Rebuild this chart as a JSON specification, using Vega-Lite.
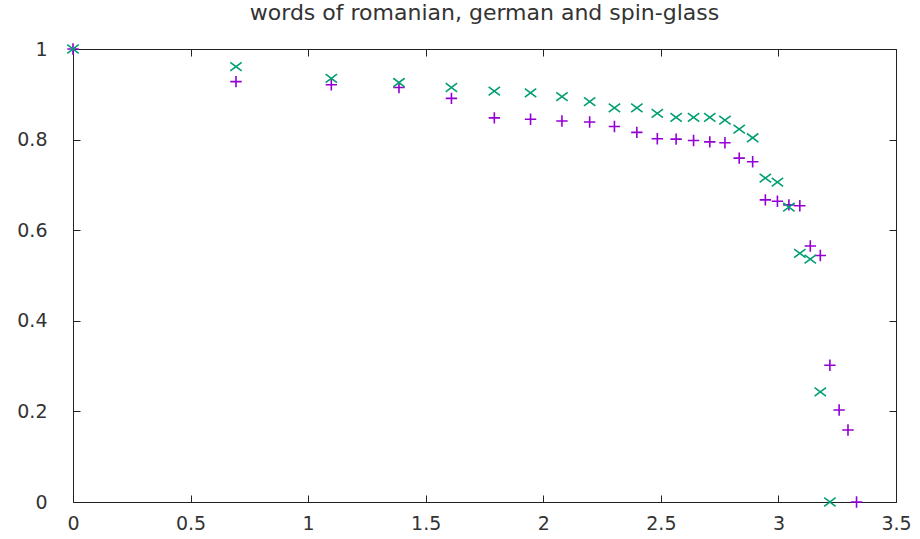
{
  "$schema": "https://vega.github.io/schema/vega-lite/v6.json",
  "width": 823,
  "height": 453,
  "autosize": {"type": "none"},
  "padding": {"left": 73, "top": 49, "right": 24, "bottom": 37},
  "background": "white",
  "title": {"text": "words of romanian, german and spin-glass", "font": "DejaVu Sans", "fontSize": 22, "fontWeight": "normal", "color": "#333333", "anchor": "middle", "baseline": "alphabetic", "offset": 19, "dy": 21},
  "config": {
    "view": {"stroke": "#222222", "strokeWidth": 1},
    "axis": {"domain": false, "grid": false, "tickSize": -7, "tickColor": "#222222", "tickWidth": 1, "labelFont": "DejaVu Sans", "labelFontSize": 19, "labelColor": "#333333", "labelFlush": false, "labelOverlap": false, "title": null}
  },
  "data": {"values": [
    {"x": 0, "y": 1, "s": "A"},
    {"x": 0.6931, "y": 0.928, "s": "A"},
    {"x": 1.0986, "y": 0.921, "s": "A"},
    {"x": 1.3863, "y": 0.915, "s": "A"},
    {"x": 1.6094, "y": 0.891, "s": "A"},
    {"x": 1.7918, "y": 0.848, "s": "A"},
    {"x": 1.9459, "y": 0.845, "s": "A"},
    {"x": 2.0794, "y": 0.841, "s": "A"},
    {"x": 2.1972, "y": 0.839, "s": "A"},
    {"x": 2.3026, "y": 0.829, "s": "A"},
    {"x": 2.3979, "y": 0.816, "s": "A"},
    {"x": 2.4849, "y": 0.802, "s": "A"},
    {"x": 2.5649, "y": 0.801, "s": "A"},
    {"x": 2.6391, "y": 0.798, "s": "A"},
    {"x": 2.7081, "y": 0.795, "s": "A"},
    {"x": 2.7726, "y": 0.793, "s": "A"},
    {"x": 2.8332, "y": 0.759, "s": "A"},
    {"x": 2.8904, "y": 0.751, "s": "A"},
    {"x": 2.9444, "y": 0.667, "s": "A"},
    {"x": 2.9957, "y": 0.664, "s": "A"},
    {"x": 3.0445, "y": 0.656, "s": "A"},
    {"x": 3.091, "y": 0.654, "s": "A"},
    {"x": 3.1355, "y": 0.565, "s": "A"},
    {"x": 3.1781, "y": 0.544, "s": "A"},
    {"x": 3.2189, "y": 0.302, "s": "A"},
    {"x": 3.2581, "y": 0.203, "s": "A"},
    {"x": 3.2958, "y": 0.159, "s": "A"},
    {"x": 3.3322, "y": 0.0, "s": "A"},
    {"x": 0, "y": 1, "s": "B"},
    {"x": 0.6931, "y": 0.961, "s": "B"},
    {"x": 1.0986, "y": 0.935, "s": "B"},
    {"x": 1.3863, "y": 0.926, "s": "B"},
    {"x": 1.6094, "y": 0.915, "s": "B"},
    {"x": 1.7918, "y": 0.907, "s": "B"},
    {"x": 1.9459, "y": 0.903, "s": "B"},
    {"x": 2.0794, "y": 0.895, "s": "B"},
    {"x": 2.1972, "y": 0.884, "s": "B"},
    {"x": 2.3026, "y": 0.87, "s": "B"},
    {"x": 2.3979, "y": 0.87, "s": "B"},
    {"x": 2.4849, "y": 0.858, "s": "B"},
    {"x": 2.5649, "y": 0.849, "s": "B"},
    {"x": 2.6391, "y": 0.849, "s": "B"},
    {"x": 2.7081, "y": 0.849, "s": "B"},
    {"x": 2.7726, "y": 0.843, "s": "B"},
    {"x": 2.8332, "y": 0.823, "s": "B"},
    {"x": 2.8904, "y": 0.804, "s": "B"},
    {"x": 2.9444, "y": 0.715, "s": "B"},
    {"x": 2.9957, "y": 0.706, "s": "B"},
    {"x": 3.0445, "y": 0.651, "s": "B"},
    {"x": 3.091, "y": 0.549, "s": "B"},
    {"x": 3.1355, "y": 0.536, "s": "B"},
    {"x": 3.1781, "y": 0.243, "s": "B"},
    {"x": 3.2189, "y": 0.0, "s": "B"}
  ]},
  "layer": [
    {
      "mark": {"type": "point", "filled": false, "strokeWidth": 1.6, "size": 130, "opacity": 1, "clip": false},
      "encoding": {
        "x": {"field": "x", "type": "quantitative", "scale": {"domain": [0, 3.5], "nice": false, "zero": false}, "axis": {"orient": "bottom", "values": [0, 0.5, 1, 1.5, 2, 2.5, 3, 3.5], "format": "~g", "labelPadding": 19}},
        "y": {"field": "y", "type": "quantitative", "scale": {"domain": [0, 1], "nice": false}, "axis": {"orient": "left", "values": [0, 0.2, 0.4, 0.6, 0.8, 1], "format": "~g", "labelPadding": 33}},
        "color": {"field": "s", "type": "nominal", "scale": {"domain": ["A", "B"], "range": ["#9400d3", "#009e73"]}, "legend": null},
        "shape": {"field": "s", "type": "nominal", "scale": {"domain": ["A", "B"], "range": ["M-1,0L1,0M0,-1L0,1", "M-1,-0.75L1,0.75M-1,0.75L1,-0.75"]}, "legend": null},
        "order": {"field": "s", "type": "nominal"}
      }
    },
    {
      "mark": {"type": "point", "opacity": 0},
      "encoding": {
        "x": {"field": "x", "type": "quantitative", "axis": {"orient": "top", "values": [0, 0.5, 1, 1.5, 2, 2.5, 3, 3.5], "labels": false}},
        "y": {"field": "y", "type": "quantitative", "axis": {"orient": "right", "values": [0, 0.2, 0.4, 0.6, 0.8, 1], "labels": false}}
      }
    }
  ],
  "resolve": {"axis": {"x": "independent", "y": "independent"}}
}
